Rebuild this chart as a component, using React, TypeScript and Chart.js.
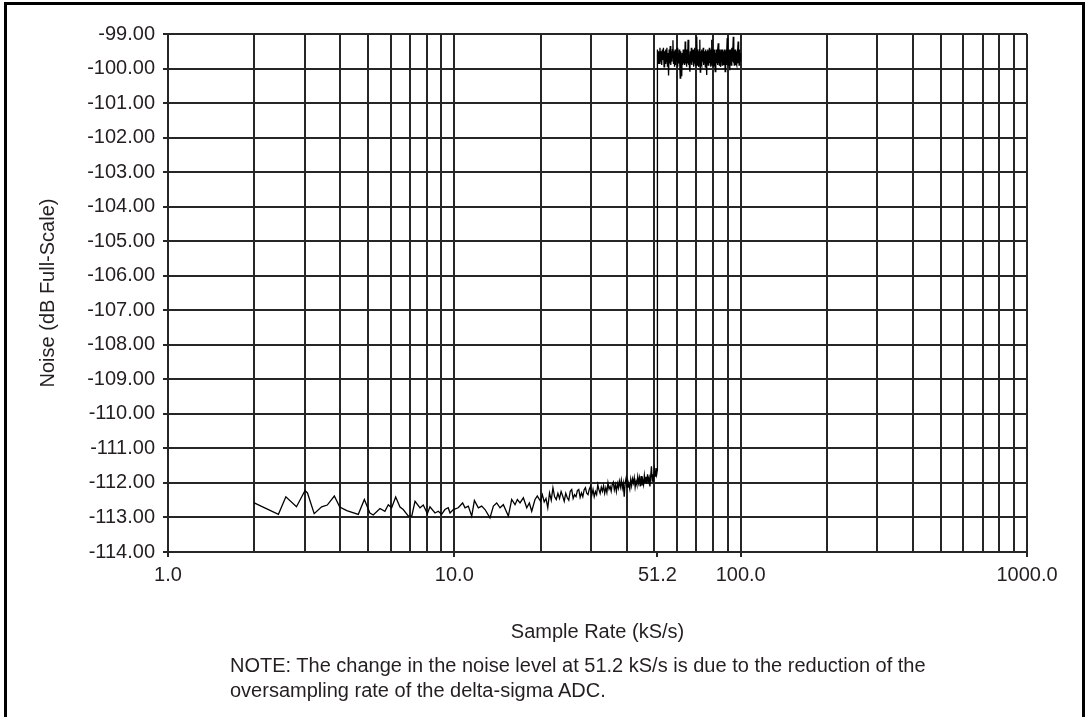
import { useEffect, useRef } from "react";
import { Chart, registerables } from "chart.js";

Chart.register(...registerables);

// Sample rate (kS/s) and measured noise (dB FS), up to 51.2 kS/s
const LOW_RATE = [
  2.0, 2.43, 2.58, 2.81, 3.01, 3.07, 3.24, 3.44, 3.6, 3.81, 3.98, 4.21, 4.62, 4.85, 5.07, 5.21, 5.5, 5.72, 5.88, 6.04,
  6.24, 6.46, 6.63, 6.91, 7.1, 7.29, 7.59, 7.79, 8.05, 8.22, 8.56, 8.79, 9.03, 9.27, 9.52, 9.66, 9.92, 10.32, 10.69, 10.9,
  11.19, 11.5, 11.75, 12.13, 12.46, 12.8, 13.32, 13.69, 14.06, 14.44, 14.83, 15.44, 15.86, 16.29, 16.6, 16.96, 17.42, 17.9, 18.28, 18.63,
  19.13, 19.49,
  20.0, 20.3, 20.6, 20.9, 21.2, 21.5, 21.8, 22.1, 22.4, 22.7, 23.0, 23.3, 23.6, 23.9, 24.2, 24.5, 24.8, 25.1, 25.4, 25.7,
  26.0, 26.3, 26.6, 26.9, 27.2, 27.5, 27.8, 28.1, 28.4, 28.7, 29.0, 29.3, 29.6, 29.9, 30.2, 30.5, 30.8, 31.1, 31.4, 31.7,
  32.0, 32.3, 32.6, 32.9, 33.2, 33.5, 33.8, 34.1, 34.4, 34.7, 35.0, 35.3, 35.6, 35.9, 36.2, 36.5, 36.8, 37.1, 37.4, 37.7,
  38.0, 38.3, 38.6, 38.9, 39.2, 39.5, 39.8, 40.1, 40.4, 40.7, 41.0, 41.3, 41.6, 41.9, 42.2, 42.5, 42.8, 43.1, 43.4, 43.7,
  44.0, 44.3, 44.6, 44.9, 45.2, 45.5, 45.8, 46.1, 46.4, 46.7, 47.0, 47.3, 47.6, 47.9, 48.2, 48.5, 48.8, 49.1, 49.4, 49.7,
  50.0, 50.3, 50.6, 50.9, 51.2,
];
const LOW_NOISE = [
  -112.58, -112.91, -112.4, -112.69, -112.22, -112.29, -112.89, -112.69, -112.64, -112.38, -112.7, -112.8, -112.91, -112.48, -112.87, -112.93, -112.74, -112.82, -112.63, -112.72,
  -112.41, -112.7, -112.77, -112.96, -112.96, -112.53, -112.72, -112.64, -112.89, -112.69, -112.87, -112.82, -112.91, -112.77, -112.72, -112.87, -112.77, -112.72, -112.58, -112.72,
  -112.67, -112.96, -112.51, -112.72, -112.67, -112.77, -113.01, -112.67, -112.58, -112.72, -112.63, -112.96, -112.48, -112.63, -112.48, -112.58, -112.43, -112.72, -112.58, -112.82,
  -112.48, -112.38,
  -112.53, -112.34, -112.55, -112.45, -112.72, -112.29, -112.5, -112.14, -112.4, -112.48, -112.3, -112.45, -112.25, -112.38, -112.53, -112.3, -112.43, -112.5, -112.24, -112.19,
  -112.45, -112.34, -112.4, -112.22, -112.19, -112.42, -112.29, -112.4, -112.2, -112.14, -112.3, -112.34, -112.18, -112.1, -112.35, -112.19, -112.4, -112.25, -112.34, -112.05,
  -112.2, -112.3, -112.12, -112.24, -112.08, -112.3, -112.14, -112.28, -112.0, -112.18, -112.1, -112.24, -112.05, -111.98, -112.2, -112.05, -112.25, -112.02, -112.15, -111.95,
  -112.12, -111.92, -112.15, -112.0, -112.4, -112.0, -111.86, -112.12, -111.95, -112.05, -112.18, -111.9, -112.08, -111.88, -112.0, -111.85, -112.12, -111.95, -112.05, -111.82,
  -112.0, -111.85, -112.1, -111.8, -112.08, -111.92, -112.05, -111.78, -111.98, -111.82, -112.02, -111.75, -111.95, -111.85, -112.1, -111.8, -111.52, -111.95, -111.75, -111.88,
  -111.62, -111.8, -111.57, -111.75, -111.62,
];

// Sample rate (kS/s) and measured noise (dB FS), from 51.2 kS/s up
const HIGH_RATE = [
  51.2, 51.5, 51.75,
  52, 52.25, 52.5, 52.75, 53, 53.25, 53.5, 53.75, 54, 54.25, 54.5, 54.75, 55, 55.25, 55.5, 55.75,
  56, 56.25, 56.5, 56.75, 57, 57.25, 57.5, 57.75, 58, 58.25, 58.5, 58.75, 59, 59.25, 59.5, 59.75,
  60, 60.25, 60.5, 60.75, 61, 61.25, 61.5, 61.75, 62, 62.25, 62.5, 62.75, 63, 63.25, 63.5, 63.75,
  64, 64.25, 64.5, 64.75, 65, 65.25, 65.5, 65.75, 66, 66.25, 66.5, 66.75, 67, 67.25, 67.5, 67.75,
  68, 68.25, 68.5, 68.75, 69, 69.25, 69.5, 69.75, 70, 70.25, 70.5, 70.75, 71, 71.25, 71.5, 71.75,
  72, 72.25, 72.5, 72.75, 73, 73.25, 73.5, 73.75, 74, 74.25, 74.5, 74.75, 75, 75.25, 75.5, 75.75,
  76, 76.25, 76.5, 76.75, 77, 77.25, 77.5, 77.75, 78, 78.25, 78.5, 78.75, 79, 79.25, 79.5, 79.75,
  80, 80.25, 80.5, 80.75, 81, 81.25, 81.5, 81.75, 82, 82.25, 82.5, 82.75, 83, 83.25, 83.5, 83.75,
  84, 84.25, 84.5, 84.75, 85, 85.25, 85.5, 85.75, 86, 86.25, 86.5, 86.75, 87, 87.25, 87.5, 87.75,
  88, 88.25, 88.5, 88.75, 89, 89.25, 89.5, 89.75, 90, 90.25, 90.5, 90.75, 91, 91.25, 91.5, 91.75,
  92, 92.25, 92.5, 92.75, 93, 93.25, 93.5, 93.75, 94, 94.25, 94.5, 94.75, 95, 95.25, 95.5, 95.75,
  96, 96.25, 96.5, 96.75, 97, 97.25, 97.5, 97.75, 98, 98.25, 98.5, 98.75, 99, 99.25, 99.5, 99.75,
  100,
];
const HIGH_NOISE = [
  -99.45, -99.85, -99.5,
  -99.85, -99.4, -99.8, -99.5, -99.9, -99.45, -99.75, -99.4, -99.95, -99.5, -99.85, -99.45, -99.8, -99.4, -99.95, -99.55,
  -100.2, -99.45, -99.85, -99.35, -99.9, -99.5, -99.8, -99.45, -99.18, -99.85, -99.5, -99.95, -99.45, -99.9, -99.5, -99.8,
  -99.4, -99.95, -99.55, -99.85, -99.45, -99.8, -100.28, -99.5, -99.85, -100.22, -99.55, -99.9, -99.45, -99.85, -99.5, -99.9,
  -99.22, -99.85, -99.45, -99.95, -99.5, -99.85, -99.17, -99.9, -99.45, -99.95, -100.09, -99.5, -99.85, -99.4, -99.9, -99.5,
  -99.8, -99.45, -99.95, -99.55, -99.85, -99.4, -99.9, -99.5, -99.8, -99.08, -99.9, -99.45, -99.85, -99.5, -99.95, -99.45,
  -99.17, -100.1, -99.5, -99.85, -99.45, -99.9, -99.5, -99.8, -99.4, -99.9, -99.55, -99.85, -99.5, -99.95, -99.45, -99.8,
  -100.19, -99.5, -99.85, -99.45, -99.9, -99.5, -99.8, -99.4, -99.85, -99.45, -99.95, -99.5, -99.85, -99.17, -99.9, -99.45,
  -99.8, -99.5, -99.95, -99.45, -99.85, -99.5, -100.09, -99.55, -99.9, -99.45, -99.85, -99.5, -99.9, -99.45, -99.27, -99.85,
  -99.5, -99.9, -99.45, -99.85, -99.55, -99.95, -99.45, -99.8, -99.5, -99.9, -99.45, -99.85, -99.55, -99.9, -99.5, -99.8,
  -99.45, -100.09, -99.5, -99.85, -99.45, -99.9, -99.55, -99.12, -99.85, -99.45, -99.9, -99.5, -99.85, -99.45, -99.9, -100.05,
  -99.5, -99.85, -99.45, -99.9, -99.4, -99.85, -99.5, -99.8, -99.45, -99.08, -99.85, -99.5, -99.9, -99.45, -99.85, -99.5,
  -99.9, -99.45, -99.85, -99.5, -99.9, -99.55, -99.85, -99.45, -99.22, -99.85, -99.5, -99.9, -99.45, -99.85, -99.55, -99.8,
  -99.7,
];

// Axis ticks
const X_GRID_TICKS = [
  1, 2, 3, 4, 5, 6, 7, 8, 9, 10, 20, 30, 40, 50, 51.2, 60, 70, 80, 90, 100,
  200, 300, 400, 500, 600, 700, 800, 900, 1000,
];
const X_LABELED = [1, 10, 51.2, 100, 1000];
const Y_MIN = -114;
const Y_MAX = -99;

const FONT_FAMILY = "'Liberation Sans', Arial, Helvetica, sans-serif";
const TEXT = "#231f20";
const GRID = "#262626";
const CLEAR = "rgba(0,0,0,0)";

export default function App() {
  const ref = useRef<HTMLCanvasElement>(null);

  useEffect(() => {
    const font = { family: FONT_FAMILY, size: 20 };
    const points = [
      ...LOW_RATE.map((x, i) => ({ x, y: LOW_NOISE[i] })),
      ...HIGH_RATE.map((x, i) => ({ x, y: HIGH_NOISE[i] })),
    ];
    const chart = new Chart(ref.current as HTMLCanvasElement, {
      type: "scatter",
      data: {
        datasets: [
          {
            data: points,
            showLine: true,
            borderColor: "#000",
            borderWidth: 1.3,
            pointRadius: 0,
            tension: 0,
          },
        ],
      },
      options: {
        animation: false,
        responsive: false,
        maintainAspectRatio: false,
        layout: { padding: { top: 34, right: 62, bottom: 73, left: 0 } },
        plugins: { legend: { display: false }, tooltip: { enabled: false } },
        scales: {
          x: {
            type: "logarithmic",
            position: "bottom",
            min: 1,
            max: 1000,
            afterBuildTicks: (s: any) => {
              s.ticks = X_GRID_TICKS.map((v) => ({ value: v }));
            },
            afterFit: (s: any) => {
              s.height = 92;
            },
            ticks: {
              autoSkip: false,
              maxRotation: 0,
              minRotation: 0,
              padding: 6,
              color: TEXT,
              font,
              callback: (v: any) =>
                X_LABELED.includes(Number(v)) ? Number(v).toFixed(1) : "",
            },
            grid: {
              color: (ctx: any) =>
                ctx.tick && ctx.tick.value === 51.2 ? CLEAR : GRID,
              tickColor: (ctx: any) =>
                ctx.tick && X_LABELED.includes(ctx.tick.value) ? GRID : CLEAR,
              lineWidth: 2,
              tickLength: 5,
              drawTicks: true,
            },
            border: { display: true, color: GRID, width: 2 },
            title: {
              display: true,
              text: "Sample Rate (kS/s)",
              color: TEXT,
              font,
              padding: { top: 0, bottom: 0 },
            },
          },
          y: {
            type: "linear",
            min: Y_MIN,
            max: Y_MAX,
            afterFit: (s: any) => {
              s.width = 168;
            },
            ticks: {
              stepSize: 1,
              padding: 8,
              color: TEXT,
              font,
              callback: (v: any) => Number(v).toFixed(2),
            },
            grid: { color: GRID, lineWidth: 2, tickLength: 5, drawTicks: true },
            border: { display: true, color: GRID, width: 2 },
            title: {
              display: true,
              text: "Noise (dB Full-Scale)",
              color: TEXT,
              font,
              padding: { top: 36, bottom: 0 },
            },
          },
        },
      },
    });
    return () => chart.destroy();
  }, []);

  return (
    <div
      style={{
        position: "absolute",
        left: 0,
        top: 0,
        width: 1089,
        height: 717,
        background: "#fff",
        overflow: "hidden",
      }}
    >
      <canvas
        ref={ref}
        width={1089}
        height={717}
        style={{ position: "absolute", left: 0, top: 0, width: 1089, height: 717, display: "block" }}
      />
      <div
        style={{
          position: "absolute",
          left: 4,
          top: 2,
          width: 1075,
          height: 740,
          borderLeft: "3px solid #000",
          borderTop: "3px solid #000",
          borderRight: "3px solid #000",
          pointerEvents: "none",
        }}
      />
      <div
        style={{
          position: "absolute",
          left: 230,
          top: 653,
          fontFamily: FONT_FAMILY,
          fontSize: 20,
          lineHeight: "25px",
          color: TEXT,
          whiteSpace: "nowrap",
        }}
      >
        NOTE: The change in the noise level at 51.2 kS/s is due to the reduction of the
        <br />
        oversampling rate of the delta-sigma ADC.
      </div>
    </div>
  );
}
